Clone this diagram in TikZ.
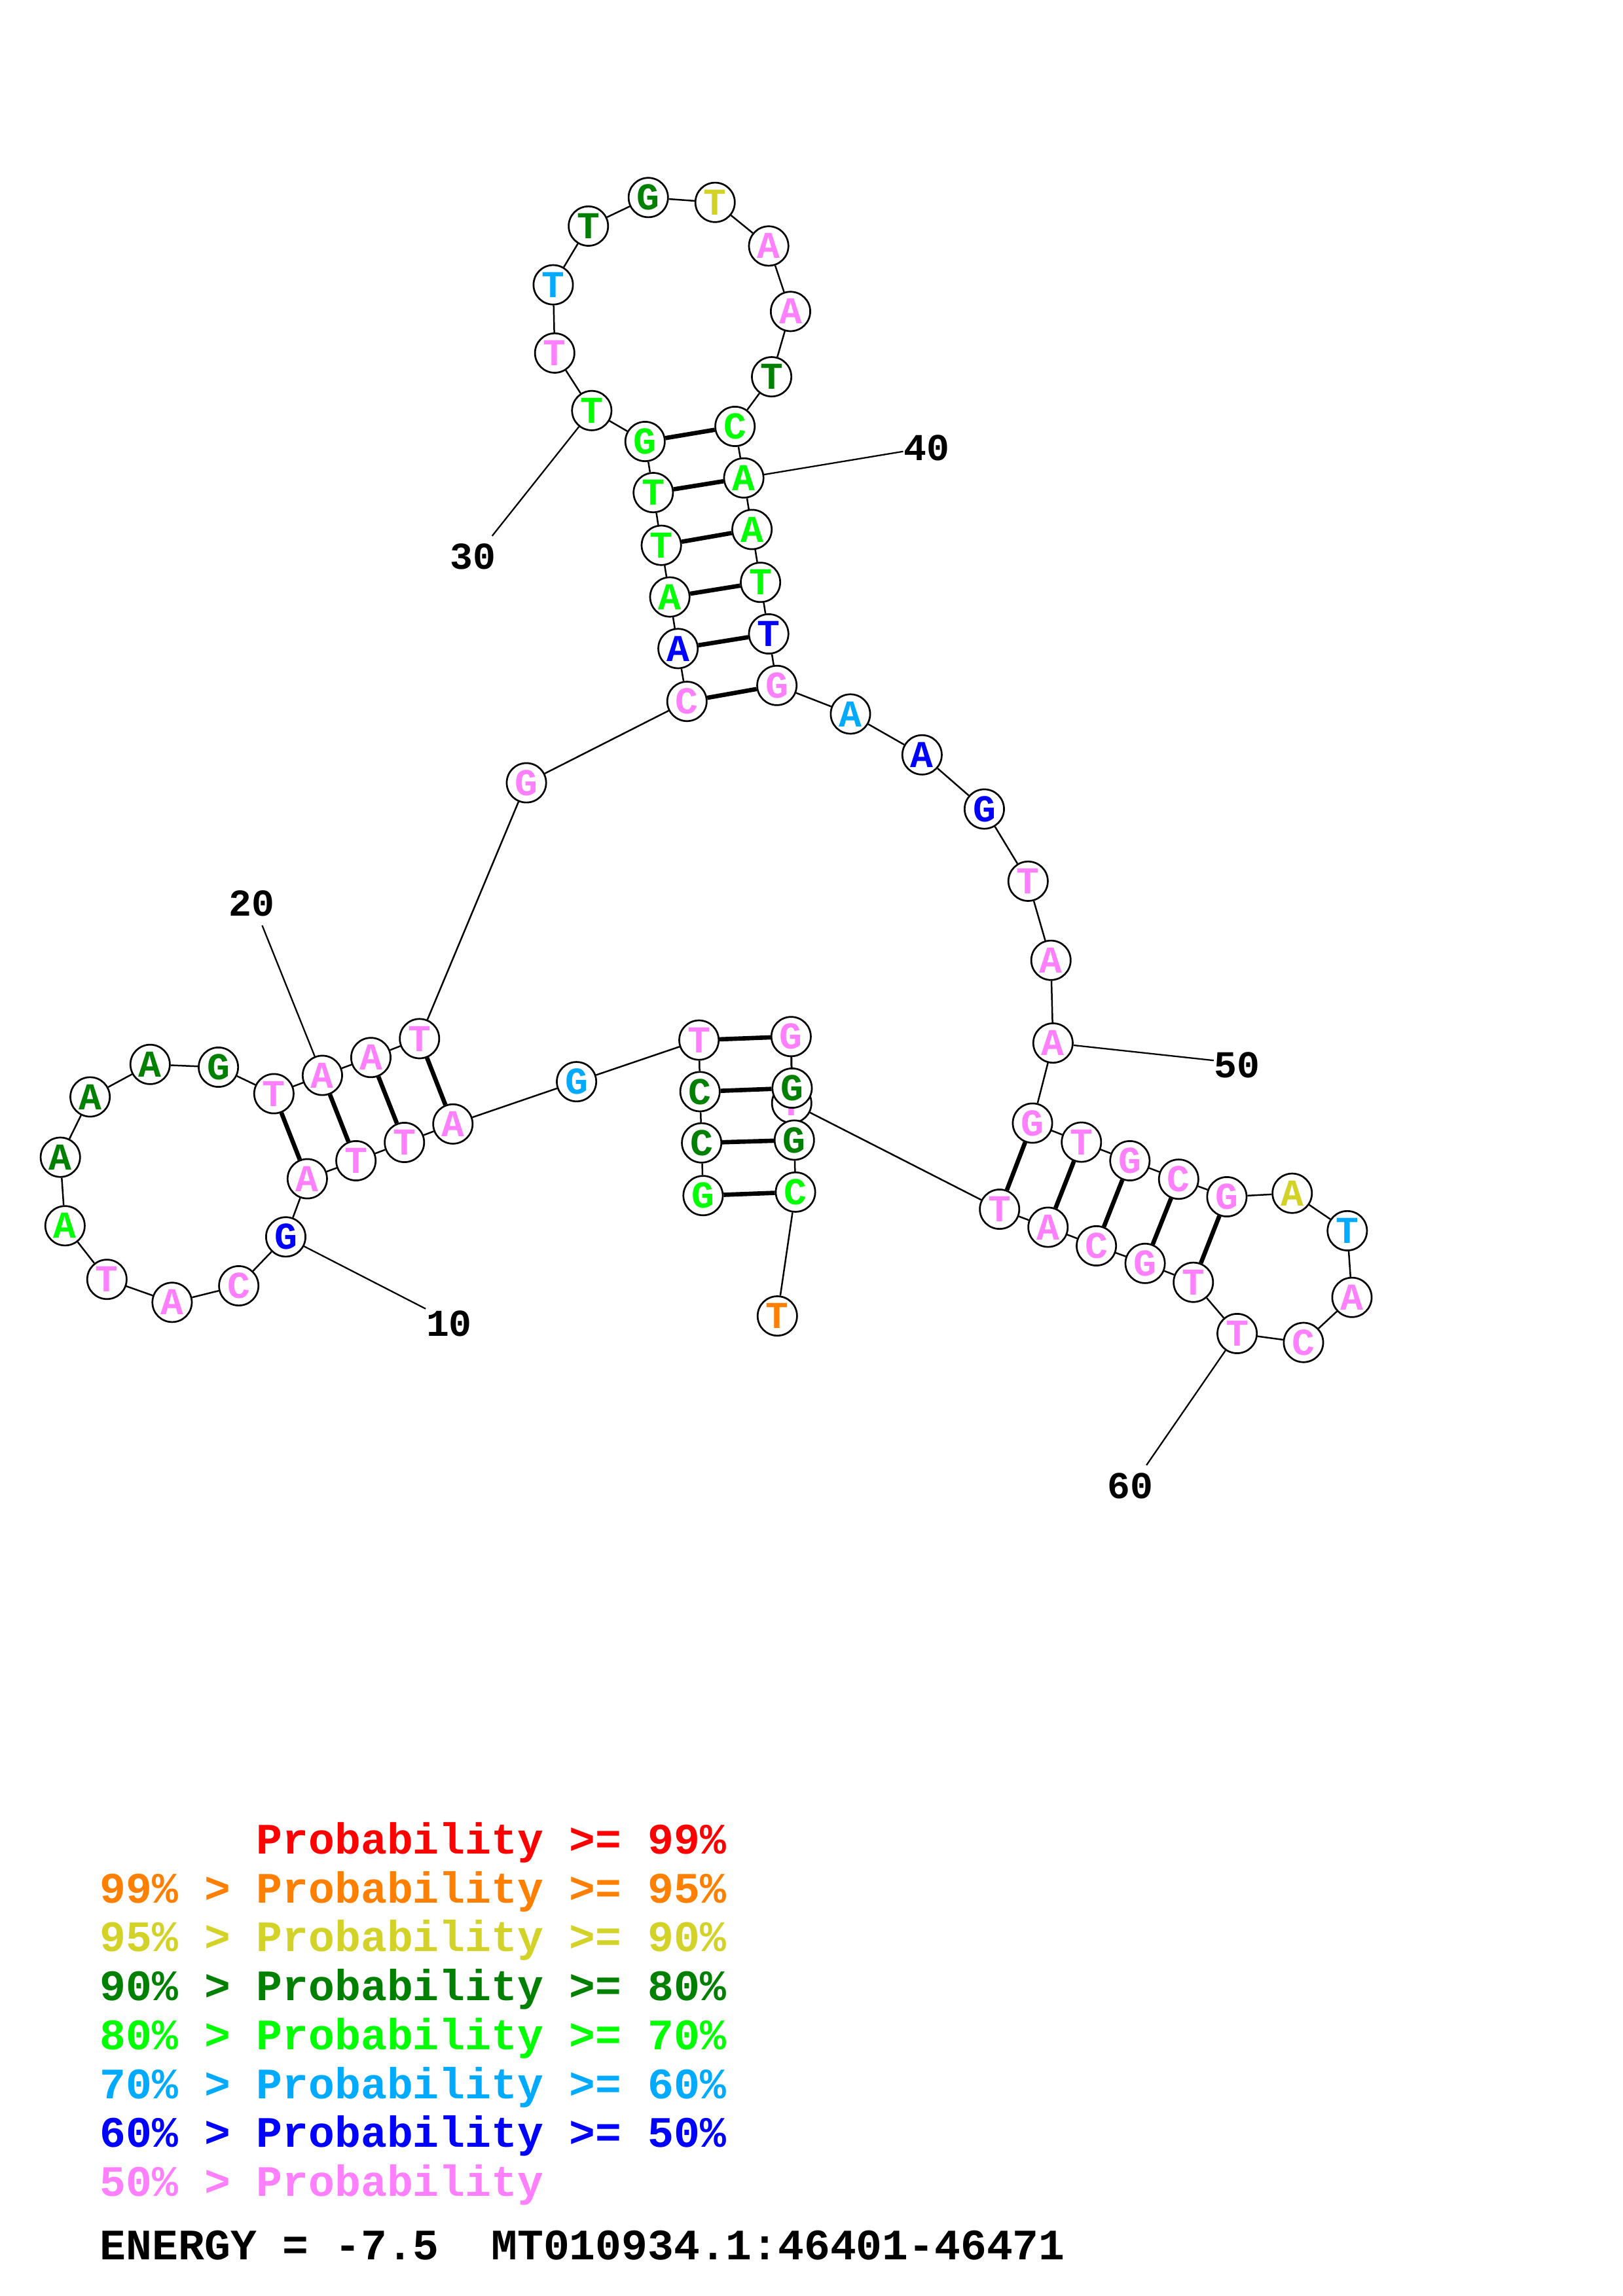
\documentclass[tikz,border=0pt]{standalone}
\usepackage{fontspec}
\setmonofont{Liberation Mono}
\usetikzlibrary{backgrounds}
\definecolor{pr99}{RGB}{255,0,0}
\definecolor{pr95}{RGB}{255,128,0}
\definecolor{pr90}{RGB}{210,210,40}
\definecolor{pr80}{RGB}{0,128,0}
\definecolor{pr70}{RGB}{0,255,0}
\definecolor{pr60}{RGB}{0,170,255}
\definecolor{pr50}{RGB}{0,0,255}
\definecolor{prlow}{RGB}{255,128,255}

\begin{document}
\begin{tikzpicture}[x=0.18953mm, y=-0.18953mm,
    nt/.style={circle, draw, line width=0.65pt, fill=white, minimum size=5.1mm, inner sep=0pt,
      font=\ttfamily\bfseries\fontsize{14}{14}\selectfont, text=#1},
    bb/.style={line width=0.6pt},
    bp/.style={line width=1.6pt},
    tick/.style={line width=0.55pt},
    num/.style={inner sep=0pt, font=\ttfamily\bfseries\fontsize{14}{14}\selectfont},
    key/.style={anchor=base west, inner sep=0pt, font=\ttfamily\bfseries\fontsize{16}{16}\selectfont, text=#1}]

	\useasboundingbox (0,0) rectangle (1108,1568);

	% bases
	\node[nt=pr70]  (n1)  at (480.0,816.5) {G};
	\node[nt=pr80]  (n2)  at (479.0,780.5) {C};
	\node[nt=pr80]  (n3)  at (477.9,745.5) {C};
	\node[nt=prlow] (n4)  at (477.2,710.3) {T};
	\node[nt=pr60]  (n5)  at (393.6,738.7) {G};
	\node[nt=prlow] (n6)  at (309.2,767.6) {A};
	\node[nt=prlow] (n7)  at (276.1,780.2) {T};
	\node[nt=prlow] (n8)  at (243.0,792.7) {T};
	\node[nt=prlow] (n9)  at (209.8,805.0) {A};
	\node[nt=pr50]  (n10) at (195.1,844.7) {G};
	\node[nt=prlow] (n11) at (163.0,878.1) {C};
	\node[nt=prlow] (n12) at (117.5,889.4) {A};
	\node[nt=prlow] (n13) at (73.0,873.7) {T};
	\node[nt=pr70]  (n14) at (44.4,837.1) {A};
	\node[nt=pr80]  (n15) at (41.2,790.3) {A};
	\node[nt=pr80]  (n16) at (61.5,749.1) {A};
	\node[nt=pr80]  (n17) at (102.5,726.9) {A};
	\node[nt=pr80]  (n18) at (149.1,728.8) {G};
	\node[nt=prlow] (n19) at (187.0,746.9) {T};
	\node[nt=prlow] (n20) at (220.1,734.4) {A};
	\node[nt=prlow] (n21) at (253.2,722.2) {A};
	\node[nt=prlow] (n22) at (286.4,709.3) {T};
	\node[nt=prlow] (n23) at (359.4,534.6) {G};
	\node[nt=prlow] (n24) at (469.0,479.0) {C};
	\node[nt=pr50]  (n25) at (462.9,442.9) {A};
	\node[nt=pr70]  (n26) at (457.3,407.7) {A};
	\node[nt=pr70]  (n27) at (451.5,372.4) {T};
	\node[nt=pr70]  (n28) at (446.0,336.4) {T};
	\node[nt=pr70]  (n29) at (440.4,301.5) {G};
	\node[nt=pr70]  (n30) at (404.0,280.4) {T};
	\node[nt=prlow] (n31) at (378.7,241.1) {T};
	\node[nt=pr60]  (n32) at (377.7,194.5) {T};
	\node[nt=pr80]  (n33) at (401.7,154.4) {T};
	\node[nt=pr80]  (n34) at (442.6,134.9) {G};
	\node[nt=pr90]  (n35) at (488.2,138.2) {T};
	\node[nt=prlow] (n36) at (524.8,168.0) {A};
	\node[nt=prlow] (n37) at (539.7,212.7) {A};
	\node[nt=pr80]  (n38) at (526.8,257.3) {T};
	\node[nt=pr70]  (n39) at (501.8,291.2) {C};
	\node[nt=pr70]  (n40) at (507.8,326.4) {A};
	\node[nt=pr70]  (n41) at (513.4,361.6) {A};
	\node[nt=pr70]  (n42) at (519.2,397.7) {T};
	\node[nt=pr50]  (n43) at (524.8,432.9) {T};
	\node[nt=prlow] (n44) at (530.4,468.1) {G};
	\node[nt=pr60]  (n45) at (580.6,487.6) {A};
	\node[nt=pr50]  (n46) at (629.5,515.5) {A};
	\node[nt=pr50]  (n47) at (672.0,552.5) {G};
	\node[nt=prlow] (n48) at (701.9,601.8) {T};
	\node[nt=prlow] (n49) at (717.5,655.8) {A};
	\node[nt=prlow] (n50) at (718.9,712.3) {A};
	\node[nt=prlow] (n51) at (704.9,767.0) {G};
	\node[nt=prlow] (n52) at (738.3,780.0) {T};
	\node[nt=prlow] (n53) at (771.4,792.7) {G};
	\node[nt=prlow] (n54) at (804.7,805.3) {C};
	\node[nt=prlow] (n55) at (837.6,817.3) {G};
	\node[nt=pr90]  (n56) at (882.2,814.9) {A};
	\node[nt=pr60]  (n57) at (919.8,840.5) {T};
	\node[nt=prlow] (n58) at (923.0,886.0) {A};
	\node[nt=prlow] (n59) at (889.9,916.8) {C};
	\node[nt=prlow] (n60) at (844.6,910.7) {T};
	\node[nt=prlow] (n61) at (814.7,875.7) {T};
	\node[nt=prlow] (n62) at (781.8,862.8) {G};
	\node[nt=prlow] (n63) at (748.5,850.8) {C};
	\node[nt=prlow] (n64) at (715.5,838.1) {A};
	\node[nt=prlow] (n65) at (682.4,825.8) {T};
	\node[nt=prlow] (n66) at (540.5,753.4) {T};
	\node[nt=prlow] (n67) at (540.1,707.9) {G};
	\node[nt=pr80]  (n68) at (540.8,743.1) {G};
	\node[nt=pr80]  (n69) at (542.3,778.6) {G};
	\node[nt=pr70]  (n70) at (543.1,814.1) {C};
	\node[nt=pr95]  (n71) at (530.7,898.7) {T};

	% backbone and pairs
	\begin{pgfonlayer}{background}
		\foreach \i [count=\j from 2] in {1,...,70}
			\draw[bb] (n\i) -- (n\j);
		\foreach \a/\b in {1/70,2/69,3/68,4/67,6/22,7/21,8/20,9/19,24/44,25/43,26/42,27/41,28/40,29/39,51/65,52/64,53/63,54/62,55/61}
			\draw[bp] (n\a) -- (n\b);
	\end{pgfonlayer}

	% numbering
	\coordinate (e10) at (290.6,893.8);
	\coordinate (e20) at (179.0,632.0);
	\coordinate (e30) at (336.0,366.0);
	\coordinate (e40) at (616.6,308.3);
	\coordinate (e50) at (828.6,724.2);
	\coordinate (e60) at (782.7,1000.6);
	\node[num] (l10) at (306.6,904) {10};
	\node[num] (l20) at (172,617) {20};
	\node[num] (l30) at (323,380) {30};
	\node[num] (l40) at (632.5,306) {40};
	\node[num] (l50) at (844.6,727.6) {50};
	\node[num] (l60) at (771.8,1015) {60};
	\foreach \k in {10,20,30,40,50,60}
		\draw[tick] (n\k) -- (e\k);

	% legend
	\node[key=pr99]  (k99) at (68,1266) {\phantom{99\% > }Probability >= 99\%};
	\node[key=pr95]  (k95) at (68,1299.4) {99\% > Probability >= 95\%};
	\node[key=pr90]  (k90) at (68,1332.8) {95\% > Probability >= 90\%};
	\node[key=pr80]  (k80) at (68,1366.2) {90\% > Probability >= 80\%};
	\node[key=pr70]  (k70) at (68,1399.6) {80\% > Probability >= 70\%};
	\node[key=pr60]  (k60) at (68,1433.0) {70\% > Probability >= 60\%};
	\node[key=pr50]  (k50) at (68,1466.4) {60\% > Probability >= 50\%};
	\node[key=prlow] (klo) at (68,1499.8) {50\% > Probability};
	\node[key=black] (energy) at (68,1543) {ENERGY = -7.5\ \ MT010934.1:46401-46471};
\end{tikzpicture}
\end{document}
